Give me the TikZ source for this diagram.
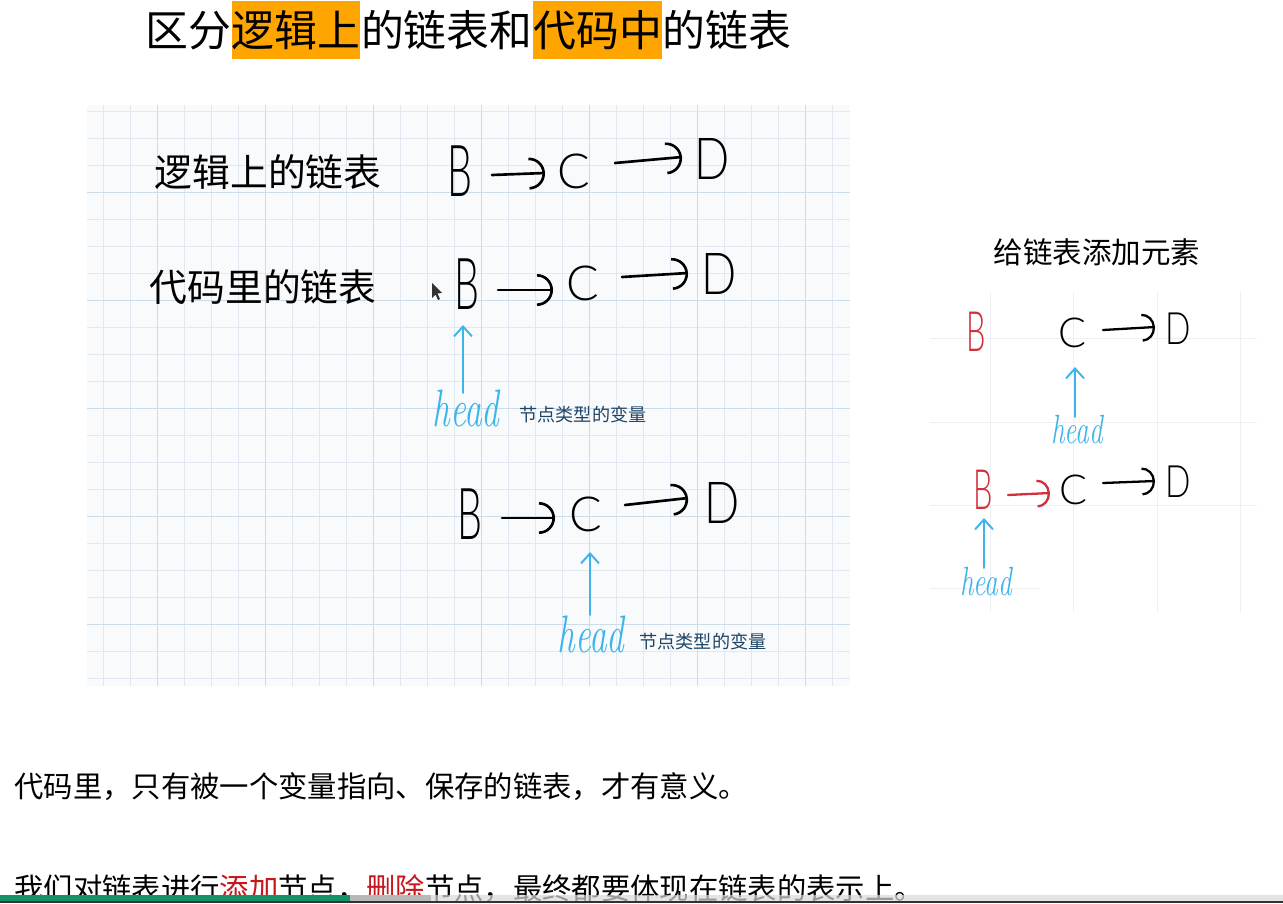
\documentclass[tikz,border=0pt]{standalone}
\usepackage{fontspec}
\newfontfamily\cjk{Noto Sans CJK SC}
\newfontfamily\lsans{Lato Light}
\usetikzlibrary{arrows.meta}
\definecolor{hlorange}{HTML}{FFA500}
\definecolor{handblue}{HTML}{3DB5EA}
\definecolor{navy}{HTML}{1F4466}
\definecolor{handred}{HTML}{D0303A}
\definecolor{txtred}{HTML}{C8161D}
\definecolor{paper}{HTML}{F9FAFC}
\definecolor{gridminor}{HTML}{E0E9F1}
\definecolor{gridmajor}{HTML}{CCDCE9}
\definecolor{gridfaint}{HTML}{EDF0F3}
\definecolor{bargreen}{HTML}{14936A}
\definecolor{bardark}{HTML}{333333}
\tikzset{
  ttl/.style={font=\cjk\fontsize{24.4pt}{24.4pt}\selectfont, inner sep=0pt, text height=21.5pt, text depth=2.9pt, anchor=base west},
  hlbox/.style={fill=hlorange, minimum height=32.9pt},
  bigB/.style={font=\lsans\fontsize{40.8pt}{40.8pt}\selectfont, inner sep=0pt, xscale=0.55},
  bigC/.style={font=\lsans\fontsize{27.5pt}{27.5pt}\selectfont, inner sep=0pt},
  bigD/.style={font=\lsans\fontsize{33pt}{33pt}\selectfont, inner sep=0pt, xscale=0.8},
  smB/.style={font=\lsans\fontsize{31.7pt}{31.7pt}\selectfont, inner sep=0pt, xscale=0.55, text=handred},
  smC/.style={font=\lsans\fontsize{23.5pt}{23.5pt}\selectfont, inner sep=0pt},
  smD/.style={font=\lsans\fontsize{25.4pt}{25.4pt}\selectfont, inner sep=0pt, xscale=0.75},
  cnhand/.style={font=\cjk\fontsize{21.5pt}{21.5pt}\selectfont, inner sep=0pt},
  headbig/.style={font=\itshape\fontsize{20pt}{20pt}\selectfont, text=handblue, inner sep=0pt, yscale=1.5},
  headsm/.style={font=\itshape\fontsize{15.5pt}{15.5pt}\selectfont, text=handblue, inner sep=0pt, yscale=1.5},
  navylbl/.style={font=\cjk\fontsize{10.3pt}{10.3pt}\selectfont, text=navy, inner sep=0pt},
  harr/.style={draw=black, line width=1.5pt, line cap=round, -{Arc Barb[length=0.32cm,width=0.64cm]}},
  sarr/.style={draw=black, line width=1.3pt, line cap=round, -{Arc Barb[length=0.26cm,width=0.56cm]}},
  rarr/.style={draw=handred, line width=1.3pt, line cap=round, -{Arc Barb[length=0.26cm,width=0.56cm]}},
  barr/.style={draw=handblue, line width=1.1pt, line cap=round, -{Straight Barb[length=0.2cm,width=0.36cm]}},
  bodytxt/.style={font=\cjk\fontsize{16.7pt}{16.7pt}\selectfont, inner sep=0pt, anchor=base west},
}
\begin{document}
\begin{tikzpicture}[x=0.02cm,y=-0.02cm]
\useasboundingbox (0,0) rectangle (1283,903);
\fill[white] (0,0) rectangle (1283,903);

% ---------- title ----------
\node[ttl] (t1) at (145,46) {区分};
\node[ttl, hlbox] (t2) at (t1.base east) {逻辑上};
\node[ttl] (t3) at (t2.base east) {的链表和};
\node[ttl, hlbox] (t4) at (t3.base east) {代码中};
\node[ttl] (t5) at (t4.base east) {的链表};

% ---------- left paper ----------
\fill[paper] (87,105) rectangle (850,686);
\foreach \i in {0,...,27} \draw[gridminor, line width=0.55pt] ({103+27*\i},105) -- ({103+27*\i},686);
\foreach \j in {0,...,21} \draw[gridminor, line width=0.55pt] (87,{111+27*\j}) -- (850,{111+27*\j});
\foreach \i in {0,...,6} \draw[gridmajor, line width=0.55pt] ({157+108*\i},105) -- ({157+108*\i},686);
\foreach \j in {0,...,4} \draw[gridmajor, line width=0.55pt] (87,{192+108*\j}) -- (850,{192+108*\j});

% row 1
\node[cnhand] (l1) at (268,172) {逻辑上的链表};
\node[bigB] (b1) at (460,171) {B};
\node[bigC] (c1) at (574,171) {C};
\node[bigD] (d1) at (712,159) {D};
\draw[harr] ([shift={(32,4)}]b1.center) -- ([shift={(-29,2)}]c1.center);
\draw[harr] ([shift={(41,-8)}]c1.center) -- ([shift={(-30,-2)}]d1.center);

% row 2
\node[cnhand] (l2) at (263,287) {代码里的链表};
\fill[black!80] (432,283) -- (432,298) -- (435.5,294.5) -- (438,300) -- (440,299) -- (437.5,293.5) -- (442,293) -- cycle;
\node[bigB] (b2) at (467,284) {B};
\node[bigC] (c2) at (583,283) {C};
\node[bigD] (d2) at (719,274) {D};
\draw[harr] ([shift={(31,6)}]b2.center) -- ([shift={(-30,7)}]c2.center);
\draw[harr] ([shift={(39,-6)}]c2.center) -- ([shift={(-31,-1)}]d2.center);
\node[headbig] (h2) at (466,408) {head};
\draw[barr] ([shift={(-3,-15)}]h2.center) -- ([shift={(-4,41)}]b2.center);
\node[navylbl] (n2) at (583,415) {节点类型的变量};

% row 3
\node[bigB] (b3) at (470,514) {B};
\node[bigC] (c3) at (586,514) {C};
\node[bigD] (d3) at (722,503) {D};
\draw[harr] ([shift={(32,4)}]b3.center) -- ([shift={(-31,4)}]c3.center);
\draw[harr] ([shift={(39,-9)}]c3.center) -- ([shift={(-34,-5)}]d3.center);
\node[headbig] (h3) at (591,634) {head};
\draw[barr] ([shift={(-1,-19)}]h3.center) -- ([shift={(4,38)}]c3.center);
\node[navylbl] (n3) at (703,642) {节点类型的变量};

% ---------- right panel ----------
\node[font=\cjk\fontsize{16.8pt}{16.8pt}\selectfont, inner sep=0pt] (rt) at (1097,252) {给链表添加元素};
\foreach \x in {990,1073,1157,1240} \draw[gridfaint, line width=0.5pt] (\x,292) -- (\x,612);
\foreach \y in {338,422,505} \draw[gridfaint, line width=0.5pt] (930,\y) -- (1257,\y);
\draw[gridfaint, line width=0.5pt] (930,588) -- (1040,588);

\node[smB] (bA) at (976,332) {B};
\node[smC] (cA) at (1072,333) {C};
\node[smD] (dA) at (1178,329) {D};
\draw[sarr] ([shift={(31,-3)}]cA.center) -- ([shift={(-23,-2)}]dA.center);
\node[headsm] (hA) at (1077,430) {head};
\draw[barr] ([shift={(-2,-13)}]hA.center) -- ([shift={(3,34)}]cA.center);

\node[smB] (bB) at (983,490) {B};
\node[smC] (cB) at (1073,490) {C};
\node[smD] (dB) at (1178,482) {D};
\draw[rarr] ([shift={(25,5)}]bB.center) -- ([shift={(-23,3)}]cB.center);
\draw[sarr] ([shift={(30,-7)}]cB.center) -- ([shift={(-23,-1)}]dB.center);
\node[headsm] (hB) at (986,582) {head};
\draw[barr] ([shift={(-2,-14)}]hB.center) -- ([shift={(1,28)}]bB.center);

% ---------- bottom text ----------
\node[bodytxt] (s1) at (14,797) {代码里，只有被一个变量指向、保存的链表，才有意义。};
\node[bodytxt] (s2) at (14,899) {我们对链表进行\textcolor{txtred}{添加}节点，\textcolor{txtred}{删除}节点，最终都要体现在链表的表示上。};

% ---------- player bar ----------
\fill[black!15, opacity=0.7] (431,895) rectangle (1283,901);
\fill[black!28] (350,895) rectangle (431,901);
\fill[bargreen] (0,895) rectangle (350,901);
\fill[bardark] (0,901) rectangle (1283,903);
\end{tikzpicture}
\end{document}
